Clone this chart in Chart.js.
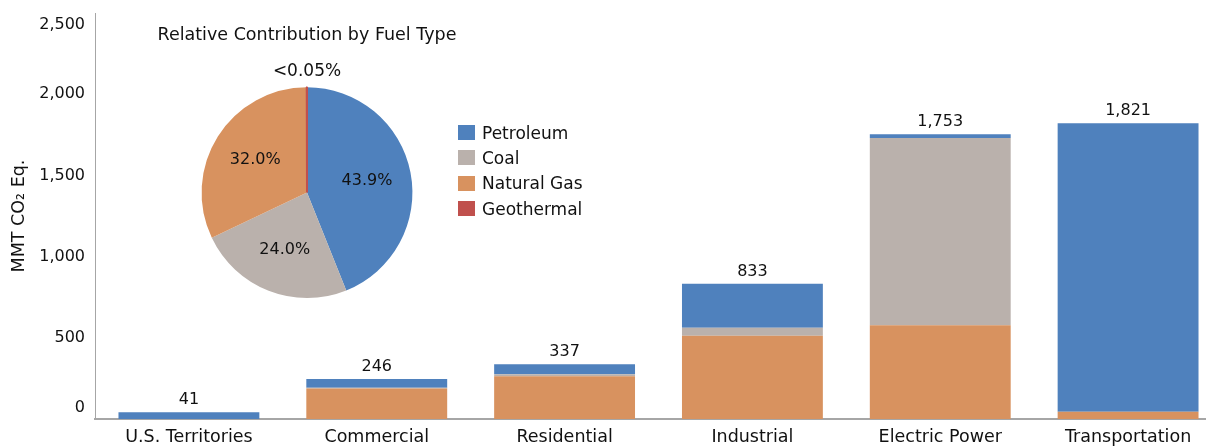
<!DOCTYPE html>
<html>
<head>
<meta charset="utf-8">
<script src="https://cdn.jsdelivr.net/npm/chart.js@4.4.0/dist/chart.umd.min.js"></script>
<style>
    html, body { margin: 0; padding: 0; background: #fff; overflow: hidden; }
    #wrap { position: relative; width: 1206px; height: 447px; overflow: hidden; }
    #barChart { position: absolute; left: 0; top: 0; }
    #pieChart { position: absolute; left: 142px; top: 20px; }
    #legend { position: absolute; left: 458px; top: 120px; font-family: 'DejaVu Sans', sans-serif; font-size: 17px; color: #111; }
    #legend .item { height: 25.3px; display: flex; align-items: center; }
    #legend .box { width: 17px; height: 15px; margin-right: 7px; }
</style>
</head>
<body>
<div id="wrap">
    <canvas id="barChart" width="1222" height="447"></canvas>
    <canvas id="pieChart" width="330" height="280"></canvas>
    <div id="legend"></div>
</div>
<script>
// sectors and fuel data (MMT CO2 Eq.)
var sectors = ['U.S. Territories', 'Commercial', 'Residential', 'Industrial', 'Electric Power', 'Transportation'];
var naturalGas = [0, 188, 263, 513, 578, 45];
var coal = [0, 4, 12, 49, 1153, 0];
var petroleum = [41, 54, 62, 271, 22, 1776];
var totals = [41, 246, 337, 833, 1753, 1821];

var yTicks = [0, 500, 1000, 1500, 2000, 2500];
var yTickLabels = ['0', '500', '1,000', '1,500', '2,000', '2,500'];

// pie: relative contribution by fuel type (%)
var fuelNames = ['Petroleum', 'Coal', 'Natural Gas', 'Geothermal'];
var fuelShares = [43.9, 24.0, 32.0, 0.04];
var fuelShareLabels = ['43.9%', '24.0%', '32.0%', '<0.05%'];

var fuelColors = {
    'Petroleum': '#4F81BD',
    'Coal': '#BAB1AC',
    'Natural Gas': '#D8925F',
    'Geothermal': '#C0504D'
};

var FONT = "'DejaVu Sans', sans-serif";
var TEXT = '#111';

// y labels drawn by hand so the end ones sit inside the axis like the original
var yLabelsPlugin = {
    id: 'yLabels',
    afterDraw: function (chart) {
        var ctx = chart.ctx;
        var y = chart.scales.y;
        var area = chart.chartArea;
        ctx.save();
        ctx.font = '16px ' + FONT;
        ctx.fillStyle = TEXT;
        ctx.textAlign = 'right';
        ctx.textBaseline = 'middle';
        yTicks.forEach(function (v, i) {
            var py = y.getPixelForValue(v);
            py = Math.min(Math.max(py, area.top + 12), area.bottom - 11);
            ctx.fillText(yTickLabels[i], 85, py);
        });
        ctx.restore();
    }
};

// totals above each stack
var totalsPlugin = {
    id: 'totals',
    afterDatasetsDraw: function (chart) {
        var ctx = chart.ctx;
        var x = chart.scales.x;
        var y = chart.scales.y;
        ctx.save();
        ctx.font = '16px ' + FONT;
        ctx.fillStyle = TEXT;
        ctx.textAlign = 'center';
        ctx.textBaseline = 'middle';
        totals.forEach(function (t, i) {
            ctx.fillText(t.toLocaleString('en-US'), x.getPixelForValue(i), y.getPixelForValue(t) - 12);
        });
        ctx.restore();
    }
};

new Chart(document.getElementById('barChart').getContext('2d'), {
    type: 'bar',
    data: {
        labels: sectors,
        datasets: [
            { label: 'Natural Gas', data: naturalGas, backgroundColor: fuelColors['Natural Gas'] },
            { label: 'Coal', data: coal, backgroundColor: fuelColors['Coal'] },
            { label: 'Petroleum', data: petroleum, backgroundColor: fuelColors['Petroleum'] }
        ]
    },
    options: {
        responsive: false,
        animation: false,
        layout: { padding: { top: 13, left: 0, right: 0, bottom: 0 } },
        datasets: { bar: { categoryPercentage: 1, barPercentage: 0.75, borderWidth: 0 } },
        scales: {
            x: {
                stacked: true,
                grid: { display: false, drawTicks: false },
                border: { display: true, color: '#A6A6A6', width: 2 },
                ticks: { font: { family: FONT, size: 17.5 }, color: TEXT, padding: 8, maxRotation: 0 },
                afterFit: function (scale) { scale.height = 28; }
            },
            y: {
                stacked: true,
                min: 0,
                max: 2500,
                grid: { display: false, drawTicks: false },
                border: { display: true, color: '#A6A6A6', width: 1 },
                ticks: { display: false },
                title: {
                    display: true,
                    text: 'MMT CO\u2082 Eq.',
                    font: { family: FONT, size: 17.5 },
                    color: TEXT,
                    padding: { top: 9, bottom: 0 }
                },
                afterFit: function (scale) { scale.width = 95; }
            }
        },
        plugins: {
            legend: { display: false },
            tooltip: { enabled: false }
        }
    },
    plugins: [yLabelsPlugin, totalsPlugin]
});

// percentage labels on the pie
var pieLabelsPlugin = {
    id: 'pieLabels',
    afterDatasetsDraw: function (chart) {
        var ctx = chart.ctx;
        var arcs = chart.getDatasetMeta(0).data;
        ctx.save();
        ctx.fillStyle = TEXT;
        ctx.textAlign = 'center';
        ctx.textBaseline = 'middle';
        arcs.forEach(function (arc, i) {
            var p = arc.getProps(['x', 'y', 'startAngle', 'endAngle', 'outerRadius']);
            if (fuelShares[i] < 1) {
                ctx.font = '17px ' + FONT;
                ctx.fillText(fuelShareLabels[i], p.x, p.y - p.outerRadius - 16);
                return;
            }
            var mid = (p.startAngle + p.endAngle) / 2;
            var r = p.outerRadius * 0.58;
            ctx.font = '16px ' + FONT;
            ctx.fillText(fuelShareLabels[i], p.x + Math.cos(mid) * r, p.y + Math.sin(mid) * r);
        });
        ctx.restore();
    }
};

new Chart(document.getElementById('pieChart').getContext('2d'), {
    type: 'pie',
    data: {
        labels: fuelNames,
        datasets: [{
            data: fuelShares,
            backgroundColor: fuelNames.map(function (n) { return fuelColors[n]; }),
            borderColor: ['#fff', '#fff', '#fff', fuelColors['Geothermal']],
            borderWidth: [0, 0, 0, 2]
        }]
    },
    options: {
        responsive: false,
        animation: false,
        layout: { padding: { top: 0, bottom: 1, left: 0, right: 0 } },
        plugins: {
            legend: { display: false },
            tooltip: { enabled: false },
            title: {
                display: true,
                text: 'Relative Contribution by Fuel Type',
                font: { family: FONT, size: 17.5, weight: 'normal' },
                color: TEXT,
                padding: { top: 4.5, bottom: 40.7 }
            }
        }
    },
    plugins: [pieLabelsPlugin]
});

// legend shared by both charts
var legend = document.getElementById('legend');
fuelNames.forEach(function (n) {
    var item = document.createElement('div');
    item.className = 'item';
    var box = document.createElement('div');
    box.className = 'box';
    box.style.background = fuelColors[n];
    var label = document.createElement('span');
    label.textContent = n;
    item.appendChild(box);
    item.appendChild(label);
    legend.appendChild(item);
});
</script>
</body>
</html>
